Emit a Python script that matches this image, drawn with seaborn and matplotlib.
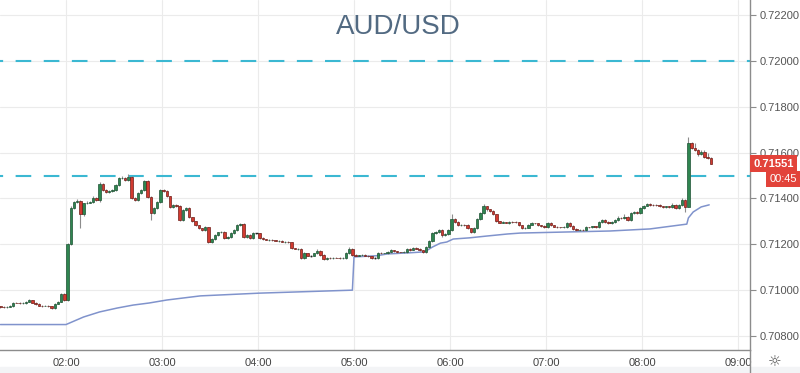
import numpy as np
import pandas as pd
import matplotlib
matplotlib.use("Agg")
import matplotlib.pyplot as plt
import matplotlib.dates as mdates
import matplotlib.transforms as mtransforms
from matplotlib.lines import Line2D
from matplotlib.patches import Rectangle
import seaborn as sns

# ---------------- data (prices in points, 1 point = 0.00001) ----------------
pair_title = "AUD/USD"
first_open = 70930
closes = [
    70927, 70925, 70928, 70930, 70946, 70944, 70942, 70943, 70950, 70956,
    70945, 70940, 70933, 70931, 70933, 70930, 70922, 70940, 70950, 70982,
    70957, 71200, 71360, 71385, 71388, 71330, 71378, 71382, 71385, 71402,
    71392, 71462, 71437, 71428, 71432, 71435, 71459, 71489, 71490, 71480,
    71494, 71402, 71393, 71424, 71437, 71476, 71406, 71336, 71358, 71385,
    71437, 71432, 71410, 71363, 71371, 71368, 71306, 71350, 71358, 71319,
    71300, 71284, 71271, 71262, 71275, 71210, 71223, 71240, 71252, 71254,
    71227, 71232, 71249, 71262, 71284, 71289, 71232, 71241, 71227, 71249,
    71249, 71227, 71222, 71219, 71220, 71218, 71215, 71216, 71210, 71211,
    71209, 71184, 71180, 71181, 71141, 71162, 71150, 71150, 71160, 71172,
    71154, 71136, 71141, 71140, 71142, 71141, 71140, 71141, 71162, 71180,
    71154, 71150, 71152, 71155, 71150, 71148, 71141, 71141, 71162, 71160,
    71161, 71167, 71175, 71170, 71166, 71165, 71166, 71180, 71176, 71184,
    71180, 71175, 71167, 71190, 71215, 71250, 71254, 71262, 71241, 71245,
    71262, 71310, 71297, 71284, 71286, 71284, 71271, 71254, 71270, 71310,
    71335, 71365, 71352, 71346, 71330, 71300, 71294, 71297, 71293, 71298,
    71297, 71296, 71284, 71271, 71272, 71284, 71293, 71291, 71284, 71280,
    71275, 71293, 71284, 71277, 71275, 71274, 71276, 71293, 71280, 71266,
    71262, 71263, 71261, 71275, 71274, 71278, 71276, 71297, 71306, 71297,
    71293, 71297, 71306, 71315, 71314, 71320, 71306, 71338, 71341, 71337,
    71358, 71368, 71376, 71373, 71372, 71370, 71366, 71363, 71365, 71362,
    71373, 71358, 71370, 71392, 71363, 71642, 71620, 71611, 71592, 71602,
    71581, 71575, 71551,
]
hi_ext = [
    3, 2, 2, 4, 3, 2, 3, 4, 3, 5,
    2, 3, 2, 2, 3, 2, 3, 4, 3, 6,
    4, 5, 6, 5, 8, 3, 4, 6, 5, 7,
    4, 8, 5, 3, 4, 5, 4, 6, 10, 5,
    11, 4, 3, 5, 4, 6, 3, 4, 3, 5,
    6, 4, 3, 2, 4, 3, 2, 4, 5, 3,
    2, 3, 2, 2, 3, 2, 3, 4, 3, 2,
    2, 3, 3, 4, 5, 4, 3, 2, 3, 3,
    2, 2, 3, 2, 3, 2, 2, 3, 2, 2,
    2, 3, 2, 2, 3, 4, 2, 3, 4, 6,
    3, 2, 2, 2, 3, 2, 2, 3, 4, 10,
    3, 2, 3, 2, 2, 2, 2, 2, 4, 3,
    3, 4, 3, 2, 2, 2, 3, 4, 3, 4,
    3, 2, 2, 4, 5, 4, 5, 6, 3, 4,
    5, 20, 4, 3, 4, 3, 3, 2, 4, 5,
    5, 10, 4, 3, 3, 4, 3, 3, 2, 4,
    3, 3, 3, 2, 3, 4, 3, 2, 3, 2,
    2, 4, 3, 2, 3, 2, 3, 4, 3, 2,
    3, 2, 2, 4, 2, 3, 2, 4, 5, 3,
    3, 4, 6, 8, 4, 10, 3, 5, 6, 4,
    5, 4, 6, 4, 3, 3, 4, 3, 4, 3,
    5, 3, 4, 8, 6, 26, 5, 22, 6, 8,
    10, 15, 4,
]
lo_ext = [
    3, 2, 3, 2, 3, 2, 2, 3, 2, 3,
    2, 3, 2, 3, 2, 2, 4, 3, 2, 3,
    6, 5, 4, 5, 4, 60, 5, 4, 3, 5,
    4, 6, 4, 3, 5, 4, 3, 4, 3, 4,
    3, 5, 4, 3, 4, 3, 4, 30, 5, 3,
    4, 3, 4, 5, 3, 4, 6, 4, 3, 5,
    3, 4, 3, 2, 3, 5, 4, 3, 4, 3,
    4, 3, 3, 2, 3, 4, 5, 4, 3, 4,
    3, 4, 3, 2, 3, 2, 2, 3, 2, 3,
    2, 3, 2, 3, 6, 4, 3, 5, 3, 4,
    4, 6, 3, 2, 3, 2, 3, 2, 3, 4,
    4, 3, 2, 3, 2, 3, 4, 3, 3, 2,
    3, 2, 3, 2, 3, 2, 3, 3, 4, 3,
    2, 3, 4, 3, 4, 5, 4, 3, 11, 4,
    3, 5, 4, 3, 3, 4, 3, 5, 4, 3,
    4, 4, 5, 3, 4, 4, 3, 3, 2, 3,
    2, 3, 4, 4, 3, 3, 2, 3, 3, 4,
    4, 3, 3, 2, 3, 2, 3, 3, 4, 3,
    4, 3, 3, 2, 3, 2, 3, 3, 4, 3,
    3, 3, 2, 4, 3, 3, 5, 3, 4, 3,
    3, 4, 3, 4, 3, 3, 4, 5, 3, 4,
    3, 5, 3, 4, 23, 0, 4, 3, 5, 4,
    4, 5, 3,
]
line_times = ["01:19", "02:00", "02:11", "02:21", "02:32", "02:42", "02:52",
              "03:03", "03:24", "04:01", "04:59", "05:00", "05:14", "05:21",
              "05:35", "05:44", "05:46", "05:49", "05:54", "05:58", "06:02",
              "06:12", "06:23", "06:36", "06:44", "07:15", "07:40", "08:05",
              "08:28", "08:29", "08:32", "08:37", "08:42"]
line_vals = [70850, 70850, 70883, 70905, 70922, 70935, 70944,
             70957, 70975, 70987, 71000, 71145, 71150, 71158,
             71163, 71167, 71175, 71188, 71205, 71210, 71223,
             71228, 71236, 71245, 71249, 71254, 71258, 71267,
             71288, 71315, 71341, 71363, 71372]
level_lines = [0.72000, 0.71500]
y_ticks = [0.70800, 0.71000, 0.71200, 0.71400, 0.71600, 0.71800, 0.72000, 0.72200]
x_tick_labels = ["02:00", "03:00", "04:00", "05:00", "06:00", "07:00", "08:00", "09:00"]
last_price_label = "0.71551"
last_price = 0.71551
countdown_label = "00:45"

# ---------------- style ----------------
sns.set_theme(style="white")
plt.rcParams["font.family"] = ["Liberation Sans", "DejaVu Sans"]

day = "2019-01-02"
pt = 1e-5
times = pd.date_range(f"{day} 01:19", periods=len(closes), freq="2min")
x = mdates.date2num(times.to_pydatetime())
c = np.array(closes, dtype=float) * pt
o = np.array([first_open] + closes[:-1], dtype=float) * pt
h = np.maximum(o, c) + np.array(hi_ext) * pt
l = np.minimum(o, c) - np.array(lo_ext) * pt

fig = plt.figure(figsize=(8, 3.73), dpi=100)
ax = fig.add_axes([0, 23 / 373, 750 / 800, 350 / 373])

# grid
ax.grid(True, color="#ebebeb", lw=0.8)
ax.set_axisbelow(True)

# horizontal level lines
for lv in level_lines:
    ax.axhline(lv, color="#3bb8d2", lw=1.5, ls=(6, (7.5, 6)), zorder=1.5)

# indicator line
line_x = mdates.date2num(pd.to_datetime([f"{day} {t}" for t in line_times]).to_pydatetime())
df_line = pd.DataFrame({"t": line_x, "v": np.array(line_vals) * pt})
sns.lineplot(data=df_line, x="t", y="v", ax=ax, color="#8093cc", lw=1.1, sort=False, zorder=2)

# candles
w = 1.4 / 1440
ax.vlines(x, l, h, color="#8c8c8c", lw=0.8, zorder=2.5)
bottom = np.minimum(o, c)
height = np.abs(c - o)
up = c > o
down = c < o
flat = c == o
ax.bar(x[up], height[up], bottom=bottom[up], width=w, color="#2f8550",
       edgecolor="#1c5233", lw=0.5, zorder=3)
ax.bar(x[down], height[down], bottom=bottom[down], width=w, color="#d23a30",
       edgecolor="#6e1d18", lw=0.5, zorder=3)
ax.hlines(c[flat], x[flat] - w / 2, x[flat] + w / 2, color="#222222", lw=1, zorder=3)

# axes limits
ax.set_xlim(mdates.date2num(pd.Timestamp(f"{day} 01:18:45").to_pydatetime()),
            mdates.date2num(pd.Timestamp(f"{day} 09:07:30").to_pydatetime()))
ax.set_ylim(0.707390, 0.722654)

# ticks
ax.set_xticks([mdates.date2num(pd.Timestamp(f"{day} {t}").to_pydatetime()) for t in x_tick_labels])
ax.set_xticklabels(x_tick_labels)
ax.set_yticks(y_ticks)
ax.set_yticklabels([f"{v:.5f}" for v in y_ticks])
ax.yaxis.tick_right()
ax.tick_params(axis="y", which="both", right=True, left=False, length=4, width=0.8,
               color="#8c8c8c", pad=3, labelsize=8, labelcolor="#555555", direction="out")
ax.tick_params(axis="x", length=0, pad=6, labelsize=8, labelcolor="#444444")
ax.set_xlabel("")
ax.set_ylabel("")
for s in ["top", "left"]:
    ax.spines[s].set_visible(False)
for s in ["right", "bottom"]:
    ax.spines[s].set_color("#8c8c8c")
    ax.spines[s].set_linewidth(1)

# separator continuing below the axis
fig.add_artist(Line2D([750 / 800, 750 / 800], [0, 23 / 373], color="#8c8c8c", lw=1))
fig.patches.append(Rectangle((0, 0), 1, 6 / 373, transform=fig.transFigure,
                             color="#f3f4f6", zorder=0))

# watermark title
ax.text(398 / 750, 1 - 27 / 350, pair_title, transform=ax.transAxes, ha="center",
        va="center", fontsize=20, color="#526a82", zorder=1)

# price tags
trans = mtransforms.blended_transform_factory(ax.transAxes, ax.transData)
ax.text(1.004, last_price, last_price_label, transform=trans, ha="left", va="center",
        fontsize=8, color="white", fontweight="bold", clip_on=False,
        bbox=dict(boxstyle="square,pad=0.3", fc="#e2433a", ec="none"))
ax.annotate(countdown_label, xy=(1, last_price), xycoords=trans, xytext=(14, -11),
            textcoords="offset points", ha="left", va="center", fontsize=8,
            color="white", annotation_clip=False,
            bbox=dict(boxstyle="square,pad=0.3", fc="#e2433a", ec="none"))

# settings icon
fig.text(775 / 800, 11 / 373, "\u263c", ha="center", va="center", fontsize=11,
         color="#555555", family="DejaVu Sans")

fig.savefig("out.png", dpi=100)
